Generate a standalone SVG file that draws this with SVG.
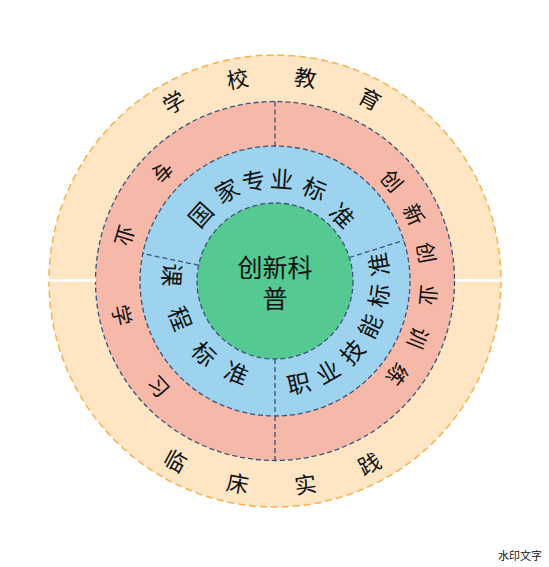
<svg xmlns="http://www.w3.org/2000/svg" width="549" height="567" viewBox="0 0 549 567">
<style>
text{font-family:"Noto Sans CJK SC","Noto Sans",sans-serif;fill:#111;text-anchor:middle;dominant-baseline:central}
.o{font-size:22px}
.p{font-size:21px}
.b{font-size:23.5px}
.c{font-size:25px}
.ring-dash{stroke:#3c5378;stroke-width:1.3;stroke-dasharray:5 3;fill:none}
</style>
<rect width="549" height="567" fill="#fff"/>
<g id="rings">
<circle id="ring-outer" cx="275" cy="281" r="226" fill="#fee6c5" stroke="#f7b24f" stroke-width="1.5" stroke-dasharray="7 4"/>
<circle id="ring-pink" cx="275" cy="281" r="179.5" fill="#f6b8a8"/>
<circle cx="275" cy="281" r="179.5" class="ring-dash"/>
<circle id="ring-blue" cx="275" cy="281" r="135" fill="#9dd3ee"/>
<circle cx="275" cy="281" r="135" class="ring-dash"/>
</g>
<g id="dividers">
<line x1="47" y1="280.5" x2="96" y2="280.5" stroke="#fff" stroke-width="2.5"/>
<line x1="455" y1="280.5" x2="503" y2="280.5" stroke="#fff" stroke-width="2.5"/>
<line x1="275" y1="101.5" x2="275" y2="146" class="ring-dash"/>
<line x1="275" y1="416" x2="275" y2="460.5" class="ring-dash"/>
<line x1="198.6" y1="265.2" x2="142.8" y2="253.6" class="ring-dash"/>
<line x1="349.4" y1="257.5" x2="403.7" y2="240.4" class="ring-dash"/>
<line x1="275" y1="359" x2="275" y2="416" class="ring-dash"/>
</g>
<g id="center">
<circle cx="275" cy="281" r="78" fill="#54c991"/>
<circle cx="275" cy="281" r="78" class="ring-dash"/>
<text class="c" x="275" y="266">创新科<tspan x="275" y="297">普</tspan></text>
</g>
<g id="outer-top">
<text class="o" transform="translate(173.1,100.8) rotate(-29.5)">学</text>
<text class="o" transform="translate(237.3,77.5) rotate(-10.5)">校</text>
<text class="o" transform="translate(305.6,76.3) rotate(8.5)">教</text>
<text class="o" transform="translate(370.6,97.4) rotate(27.5)">育</text>
</g>
<g id="outer-bottom">
<text class="o" transform="translate(176.1,459.4) rotate(29)">临</text>
<text class="o" transform="translate(237.8,481.6) rotate(10.5)">床</text>
<text class="o" transform="translate(305.2,482.8) rotate(-8.5)">实</text>
<text class="o" transform="translate(368.6,462.3) rotate(-27.3)">践</text>
</g>
<g id="pink-right">
<text class="p" transform="translate(392.7,180.1) rotate(49.4)">创</text>
<text class="p" transform="translate(414.8,214) rotate(64.4)">新</text>
<text class="p" transform="translate(427.3,252.5) rotate(79.4)">创</text>
<text class="p" transform="translate(429.3,295.3) rotate(95.3)">业</text>
<text class="p" transform="translate(419,338.3) rotate(111.7)">训</text>
<text class="p" transform="translate(398.1,375.1) rotate(127.4)">练</text>
</g>
<g id="pink-left">
<text class="p" transform="translate(162.8,172.6) rotate(134)">专</text>
<text class="p" transform="translate(125.7,235.9) rotate(106.8)">业</text>
<text class="p" transform="translate(122.8,315) rotate(77.4)">学</text>
<text class="p" transform="translate(159.2,385.6) rotate(47.9)">习</text>
</g>
<g id="blue-top">
<text class="b" transform="translate(200,214) rotate(-48.2)">国</text>
<text class="b" transform="translate(226.5,190) rotate(-28.1)">家</text>
<text class="b" transform="translate(253.5,180) rotate(-12)">专</text>
<text class="b" transform="translate(282,178) rotate(3.9)">业</text>
<text class="b" transform="translate(315,188) rotate(23)">标</text>
<text class="b" transform="translate(343,215) rotate(45.8)">准</text>
</g>
<g id="blue-left">
<text class="b" transform="translate(173,275) rotate(93.4)">课</text>
<text class="b" transform="translate(181,318) rotate(68.5)">程</text>
<text class="b" transform="translate(205,353) rotate(44.2)">标</text>
<text class="b" transform="translate(237,372) rotate(22.7)">准</text>
</g>
<g id="blue-right">
<text class="b" transform="translate(298.4,382.3) rotate(-13)">职</text>
<text class="b" transform="translate(327.3,370.9) rotate(-30.2)">业</text>
<text class="b" transform="translate(351.6,351.4) rotate(-47.4)">技</text>
<text class="b" transform="translate(368.9,325.6) rotate(-64.6)">能</text>
<text class="b" transform="translate(377.9,295.8) rotate(-81.8)">标</text>
<text class="b" transform="translate(377.7,264.7) rotate(-99)">准</text>
</g>
<text x="520" y="555" style="font-size:11px">水印文字</text>
</svg>
